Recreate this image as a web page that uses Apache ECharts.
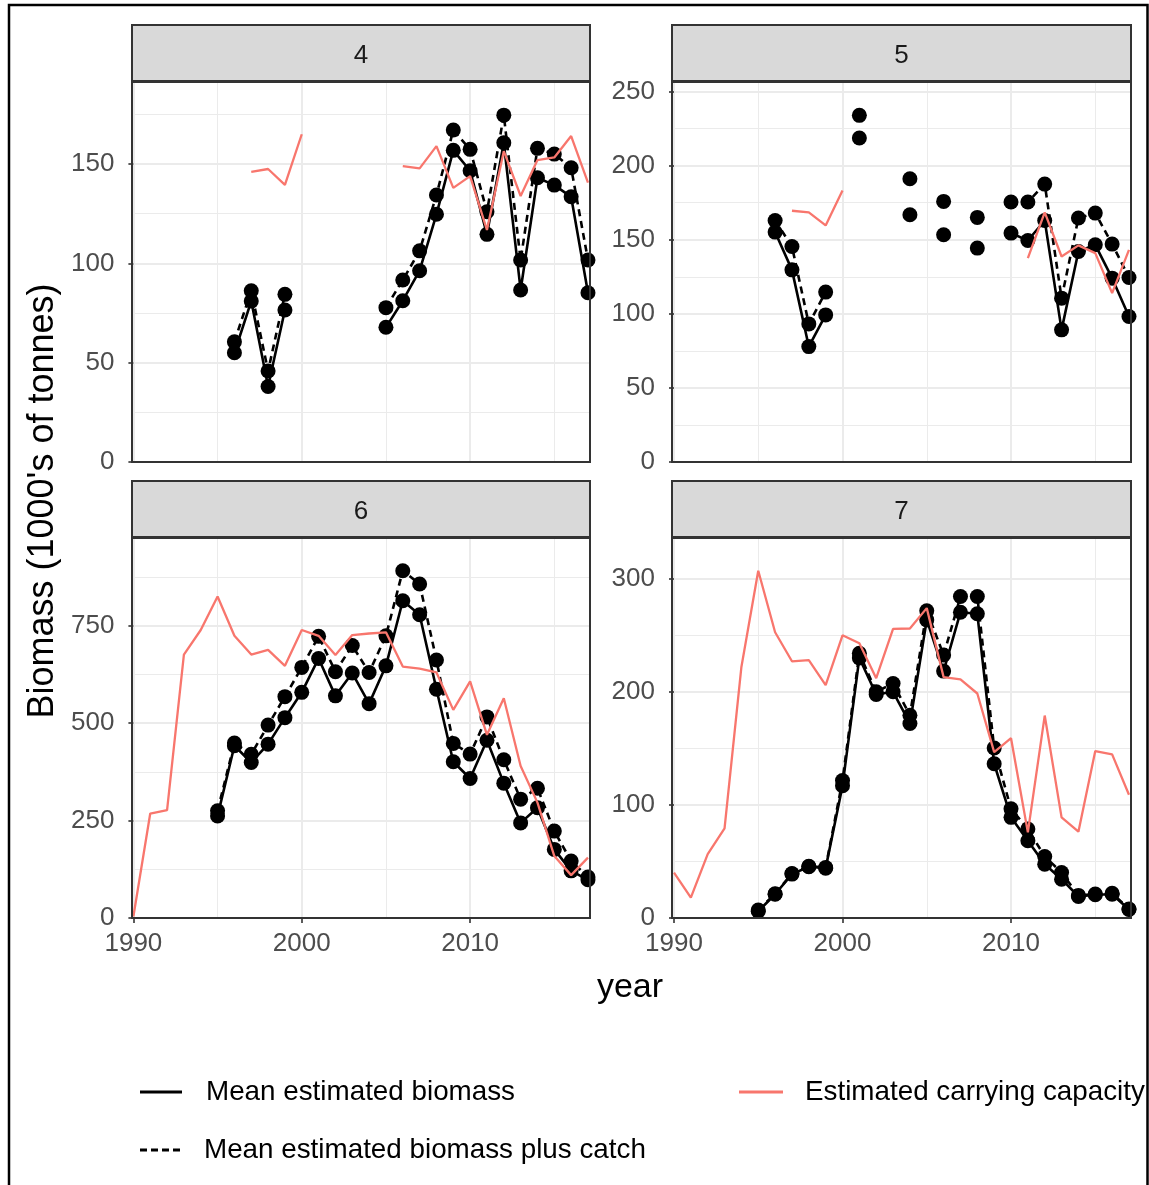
<!DOCTYPE html>
<html>
<head>
<meta charset="utf-8">
<script src="https://cdn.jsdelivr.net/npm/echarts@6/dist/echarts.min.js"></script>
<style>
  html, body { margin: 0; padding: 0; background: #ffffff; }
  #chart { width: 1149px; height: 1185px; }
</style>
</head>
<body>
<div id="chart"></div>
<script>
// Survey years shared by every area panel
const years = [1990, 1991, 1992, 1993, 1994, 1995, 1996, 1997, 1998, 1999,
               2000, 2001, 2002, 2003, 2004, 2005, 2006, 2007, 2008, 2009,
               2010, 2011, 2012, 2013, 2014, 2015, 2016, 2017];
const n = null;

// Area 4 (1000's of tonnes)
const biomass4 = [n, n, n, n, n, n, 55, 81, 38, 76.5, n, n, n, n, n,
                  67.8, 81.2, 96.3, 124.7, 156.9, 146.6, 114.6, 160.7, 86.6, 143.1, 139.4, 133.5, 85.2];
const plusCatch4 = [n, n, n, n, n, n, 60.5, 86.2, 45.8, 84.4, n, n, n, n, n,
                    77.7, 91.6, 106.3, 134.4, 167.1, 157.4, 126, 174.6, 101.7, 157.9, 155, 148.1, 101.7];
const capacity4 = [n, n, n, n, n, n, n, 146, 147.5, 139.5, 165, n, n, n, n, n,
                   149, 147.8, 159, 138, 143.9, 116.8, 156.5, 133.9, 152, 153.3, 164.1, 140.6];

// Area 5
const biomass5 = [n, n, n, n, n, n, 155.2, 129.7, 77.9, 99.3, n, 218.7, n, n, 166.9, n, 153.4, n, 144.4, n,
                  154.5, 149.5, 163, 89.2, 142.1, 146.6, 124.1, 98.2];
const plusCatch5 = [n, n, n, n, n, n, 163, 145.5, 93.2, 114.7, n, 234, n, n, 191.2, n, 175.9, n, 165.1, n,
                    175.5, 175.5, 187.6, 110.6, 164.7, 168, 147.1, 124.5];
const capacity5 = [n, n, n, n, n, n, n, 169.6, 168.5, 159.7, 183.3, n, n, n, n, n, n, n, n, n, n,
                   137.6, 168.5, 138.7, 146.2, 141, 114, 143.2];

// Area 6
const biomass6 = [n, n, n, n, n, 262, 442, 399, 446, 514, 579, 666, 570, 628.6, 550, 647, 814, 778, 587,
                  401, 358, 456, 346, 244, 283, 176, 121, 98];
const plusCatch6 = [n, n, n, n, n, 275, 449, 420, 495, 568, 643, 722.6, 632, 699, 630, 724, 891, 857, 662,
                    448, 420.5, 516, 406, 305, 333, 223, 146, 105];
const capacity6 = [4, 268, 277, 676, 739, 825, 724, 676, 688, 647, 739, 724, 675, 726, 730, 733, 645, 640,
                   630, 534, 607, 470, 564, 390, 296, 159, 110, 155];

// Area 7
const biomass7 = [n, n, n, n, n, 6, 21, 38.8, 45.3, 44.1, 117, 230, 197.6, 200, 172, 263.6, 218.3, 270.4,
                  269, 136.4, 89, 68.3, 47.6, 34.3, 19, 20.5, 21, 7.5];
const plusCatch7 = [n, n, n, n, n, 7, 21.5, 39.3, 45.8, 44.6, 121.6, 234, 200, 207.4, 179.3, 271.6, 232.5,
                    284.3, 284.3, 150.3, 96.5, 78.7, 54.4, 40.2, 20, 21.2, 21.8, 8];
const capacity7 = [40.2, 18, 56.5, 79.3, 222, 307, 252.7, 227, 228, 206, 250, 243, 212, 255.6, 256, 274,
                   213, 211, 198.5, 146.7, 159, 75.7, 179, 89, 76.3, 147.6, 144.7, 109];

// Panel labels and axis tick labels
const panelLabels = ['4', '5', '6', '7'];
const xTickLabels = [1990, 2000, 2010];
const yTicks4 = [0, 50, 100, 150];
const yTicks5 = [0, 50, 100, 150, 200, 250];
const yTicks6 = [0, 250, 500, 750];
const yTicks7 = [0, 100, 200, 300];

const seriesNames = ['Mean estimated biomass', 'Mean estimated biomass plus catch', 'Estimated carrying capacity'];

const panelData = [
  { biomass: biomass4, plusCatch: plusCatch4, capacity: capacity4, yTicks: yTicks4 },
  { biomass: biomass5, plusCatch: plusCatch5, capacity: capacity5, yTicks: yTicks5 },
  { biomass: biomass6, plusCatch: plusCatch6, capacity: capacity6, yTicks: yTicks6 },
  { biomass: biomass7, plusCatch: plusCatch7, capacity: capacity7, yTicks: yTicks7 }
];

// ---- layout & styling ----
const FONT = '"Liberation Sans", Arial, sans-serif';
const X_MAX = 2017.12;
const yMax = [191.3, 256.5, 975, 336];
const cols = [
  { frameLeft: 132, gridLeft: 133.4, right: 590 },
  { frameLeft: 672, gridLeft: 674, right: 1131 }
];
const rows = [
  { stripTop: 25, top: 82, bottom: 462 },
  { stripTop: 481, top: 538, bottom: 918 }
];

const toPairs = arr => years.map((yr, i) => [yr, arr[i] == null ? '-' : arr[i]]);

const grids = [], xAxes = [], yAxes = [], series = [], graphics = [];

panelData.forEach((pd, p) => {
  const col = cols[p % 2];
  const row = rows[Math.floor(p / 2)];
  const bottomRow = p >= 2;
  const step = pd.yTicks[1] - pd.yTicks[0];

  grids.push({
    left: col.gridLeft,
    top: row.top,
    width: col.right - col.gridLeft,
    height: row.bottom - row.top,
    containLabel: false
  });

  // major x axis (labels, ticks, thick grid lines)
  xAxes.push({
    type: 'value', gridIndex: p, min: 1990, max: X_MAX, interval: 10,
    axisLine: { show: false },
    axisTick: {
      show: bottomRow, length: 5, customValues: xTickLabels,
      lineStyle: { color: '#333333', width: 1.6 }
    },
    axisLabel: {
      show: bottomRow, customValues: xTickLabels, margin: 13,
      fontSize: 26, color: '#4D4D4D', fontFamily: FONT,
      formatter: v => (v % 10 === 0 ? String(v) : '')
    },
    splitLine: { show: true, lineStyle: { color: '#EBEBEB', width: 2 } }
  });
  // minor x axis (thin grid lines only)
  xAxes.push({
    type: 'value', gridIndex: p, min: 1990, max: X_MAX, interval: 5,
    axisLine: { show: false }, axisTick: { show: false }, axisLabel: { show: false },
    splitLine: { show: true, lineStyle: { color: '#EBEBEB', width: 1 } }
  });

  // major y axis
  yAxes.push({
    type: 'value', gridIndex: p, min: 0, max: yMax[p], interval: step,
    axisLine: { show: false },
    axisTick: {
      show: true, length: 5, customValues: pd.yTicks,
      lineStyle: { color: '#333333', width: 1.6 }
    },
    axisLabel: {
      show: true, customValues: pd.yTicks, margin: 19,
      fontSize: 26, color: '#4D4D4D', fontFamily: FONT,
      formatter: v => (v % step === 0 ? String(v) : '')
    },
    splitLine: { show: true, lineStyle: { color: '#EBEBEB', width: 2 } }
  });
  // minor y axis
  yAxes.push({
    type: 'value', gridIndex: p, min: 0, max: yMax[p], interval: step / 2,
    axisLine: { show: false }, axisTick: { show: false }, axisLabel: { show: false },
    splitLine: { show: true, lineStyle: { color: '#EBEBEB', width: 1 } }
  });

  const common = { xAxisIndex: 2 * p, yAxisIndex: 2 * p, connectNulls: false, animation: false };
  series.push(Object.assign({
    name: seriesNames[0], type: 'line', data: toPairs(pd.biomass),
    symbol: 'circle', symbolSize: 15, showSymbol: true,
    itemStyle: { color: '#000000' },
    lineStyle: { color: '#000000', width: 2.6, type: 'solid' }, z: 3
  }, common));
  series.push(Object.assign({
    name: seriesNames[1], type: 'line', data: toPairs(pd.plusCatch),
    symbol: 'circle', symbolSize: 15, showSymbol: true,
    itemStyle: { color: '#000000' },
    lineStyle: { color: '#000000', width: 2.6, type: [7, 5] }, z: 3
  }, common));
  series.push(Object.assign({
    name: seriesNames[2], type: 'line', data: toPairs(pd.capacity),
    symbol: 'none', showSymbol: false,
    itemStyle: { color: '#F8766D' },
    lineStyle: { color: '#F8766D', width: 2.3 }, z: 4
  }, common));

  // facet strip
  graphics.push({
    type: 'rect', z: 20,
    shape: { x: col.frameLeft, y: row.stripTop, width: col.right - col.frameLeft, height: row.top - row.stripTop - 1 },
    style: { fill: '#D9D9D9', stroke: '#333333', lineWidth: 2 }
  });
  graphics.push({
    type: 'text', z: 21,
    x: (col.frameLeft + col.right) / 2, y: (row.stripTop + row.top) / 2 + 2,
    style: { text: panelLabels[p], align: 'center', verticalAlign: 'middle',
             fontSize: 26, fontFamily: FONT, fill: '#1A1A1A' }
  });
  // panel frame
  graphics.push({
    type: 'rect', z: 20,
    shape: { x: col.frameLeft, y: row.top, width: col.right - col.frameLeft, height: row.bottom - row.top },
    style: { fill: 'none', stroke: '#333333', lineWidth: 2 }
  });
});

// axis titles
graphics.push({
  type: 'text', z: 21, x: 43, y: 501, rotation: Math.PI / 2,
  style: { text: "Biomass (1000's of tonnes)", align: 'center', verticalAlign: 'middle',
           fontSize: 36, fontFamily: FONT, fill: '#000000' }
});
graphics.push({
  type: 'text', z: 21, x: 630, y: 988,
  style: { text: 'year', align: 'center', verticalAlign: 'middle',
           fontSize: 34, fontFamily: FONT, fill: '#000000' }
});
// outer frame
graphics.push({
  type: 'rect', z: 30,
  shape: { x: 9, y: 5, width: 1138.5, height: 1200 },
  style: { fill: 'none', stroke: '#000000', lineWidth: 2.5 }
});

const legendText = { fontSize: 27.8, fontFamily: FONT, color: '#000000', padding: [0, 0, 0, 19] };
const dashIcon = 'path://M0,0h7v3h-7z M11,0h7v3h-7z M22,0h7v3h-7z M33,0h7v3h-7z';

const option = {
  animation: false,
  backgroundColor: '#ffffff',
  grid: grids,
  xAxis: xAxes,
  yAxis: yAxes,
  series: series,
  legend: [
    { left: 135, top: 1073, itemWidth: 42, itemHeight: 3, selectedMode: false,
      itemStyle: { borderWidth: 0 }, textStyle: legendText,
      data: [{ name: seriesNames[0], icon: 'rect' }] },
    { left: 135, top: 1131, itemWidth: 40, itemHeight: 3, selectedMode: false,
      itemStyle: { borderWidth: 0 }, textStyle: legendText,
      data: [{ name: seriesNames[1], icon: dashIcon }] },
    { left: 734, top: 1073, itemWidth: 44, itemHeight: 3, selectedMode: false,
      itemStyle: { borderWidth: 0 }, textStyle: Object.assign({}, legendText, { padding: [0, 0, 0, 17] }),
      data: [{ name: seriesNames[2], icon: 'rect' }] }
  ],
  graphic: { elements: graphics }
};

const chart = echarts.init(document.getElementById('chart'), null, { renderer: 'canvas' });
chart.setOption(option);
</script>
</body>
</html>
